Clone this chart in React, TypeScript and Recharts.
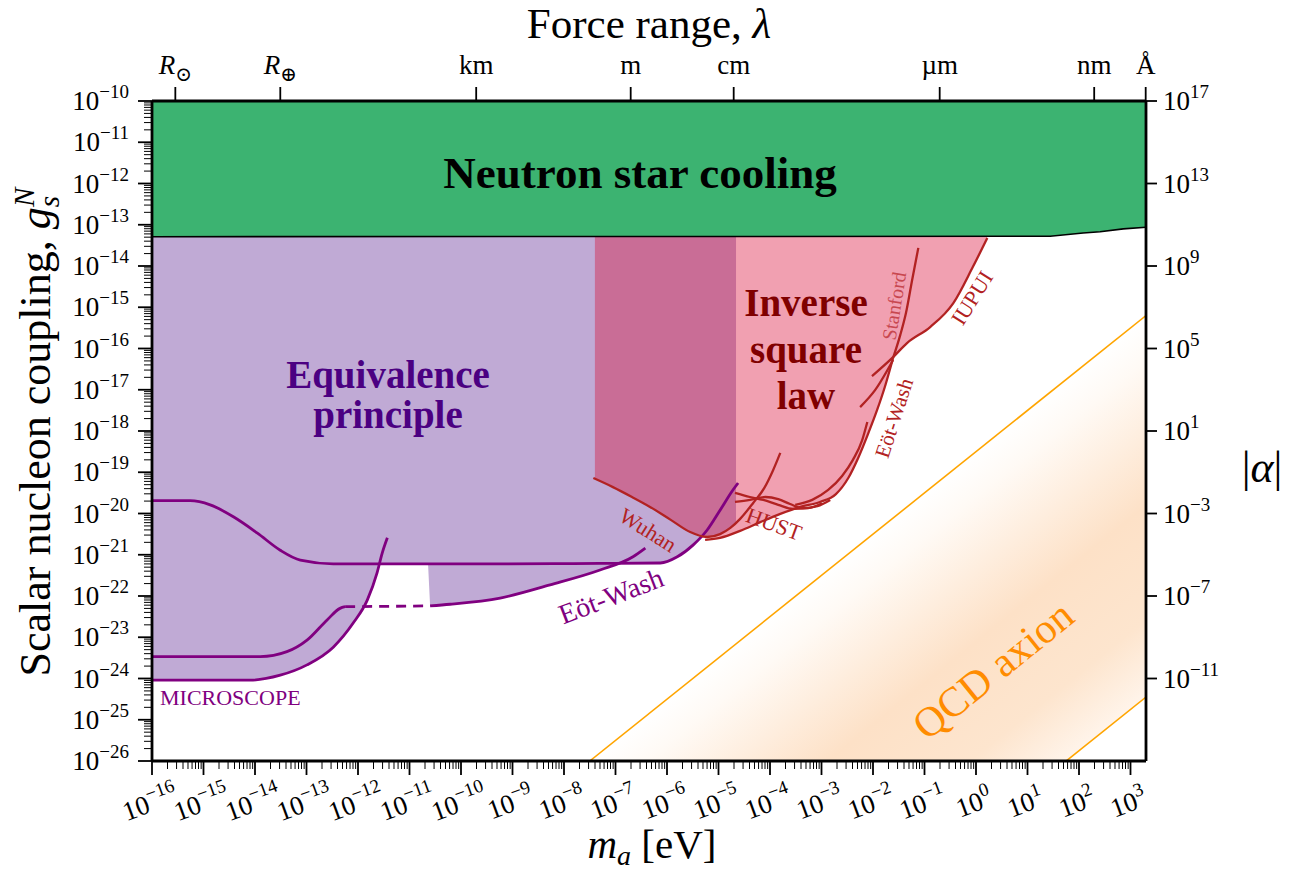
import React from "react";
import { ComposedChart, Area, Line, XAxis, YAxis } from "recharts";

const SERIF = '"Liberation Serif", "DejaVu Serif", serif';

// every value is log10: x = log10(m_a / eV), y = log10(g_s^N)
const neutronStar: [number, number][] = [[-16, -13.29], [1.44, -13.28], [2.08, -13.2], [2.41, -13.17], [2.86, -13.1], [3.301, -13.06]];

const epBottom: [number, number][] = [
    [-16, -24.04], [-14.09, -24.04], [-13.51, -23.92], [-12.99, -23.67], [-12.48, -23.24], [-12.09, -22.65],
    [-11.82, -22.1], [-11.63, -21.44], [-11.57, -21.22], [-10.64, -21.22], [-10.6, -22.24], [-10.21, -22.2],
    [-9.24, -22.05], [-8.27, -21.73], [-7.3, -21.37], [-6.95, -21.21], [-6.13, -21.2], [-5.8, -21.05],
    [-5.49, -20.76], [-5.22, -20.4], [-4.97, -19.92], [-4.72, -19.43], [-4.66, -19.33],
];
const wuhanBottom: [number, number][] = [
    [-7.4, -19.16], [-7.05, -19.36], [-6.68, -19.6], [-6.33, -19.84], [-5.92, -20.16], [-5.55, -20.45],
    [-5.22, -20.57], [-4.97, -20.5], [-4.77, -20.35], [-4.66, -20.22],
];
const islBottom: [number, number][] = [
    [-5.36, -20.59], [-4.97, -20.59], [-4.58, -20.42], [-4.19, -20.21], [-3.8, -20.01], [-3.41, -19.84],
    [-3.03, -19.72], [-2.72, -19.53], [-2.48, -19.14], [-2.29, -18.66], [-2.09, -18.05], [-1.92, -17.49],
    [-1.76, -16.89], [-1.61, -16.23], [-1.34, -15.87], [-0.89, -15.48], [-0.44, -14.9], [-0.06, -14.02], [0.22, -13.32],
];

const qcdX = [-7.5, 3.301];
const qcdUpper = [-26.0, -15.2];
const qcdLower = [-35.25, -24.45];

// limit curves
const epUpper: [number, number][] = [
    [-16, -19.69], [-15.26, -19.69], [-14.87, -19.79], [-14.42, -20.08], [-13.96, -20.47], [-13.51, -20.89],
    [-13.12, -21.13], [-12.48, -21.22], [-11.18, -21.22], [-9.24, -21.22], [-7.3, -21.21], [-6.13, -21.2],
    [-5.8, -21.05], [-5.49, -20.76], [-5.22, -20.4], [-4.97, -19.92], [-4.72, -19.43], [-4.62, -19.26],
];
const microscopeLower: [number, number][] = [
    [-16, -24.04], [-14.09, -24.04], [-13.51, -23.92], [-12.99, -23.67], [-12.48, -23.24], [-12.09, -22.65],
    [-11.82, -22.1], [-11.63, -21.44], [-11.53, -20.96], [-11.43, -20.59],
];
const microscopeUpper: [number, number][] = [
    [-16, -23.47], [-13.9, -23.47], [-13.38, -23.35], [-12.99, -23.07], [-12.6, -22.58], [-12.35, -22.3], [-12.25, -22.26],
];
const microscopeGap: [number, number][] = [[-12.25, -22.26], [-10.6, -22.24]];
const eotWashEP: [number, number][] = [
    [-10.6, -22.24], [-10.21, -22.2], [-9.24, -22.05], [-8.27, -21.73], [-7.3, -21.37], [-6.66, -21.05], [-6.42, -20.84],
];
const wuhan: [number, number][] = [
    [-7.43, -19.14], [-7.05, -19.36], [-6.68, -19.6], [-6.33, -19.84], [-5.92, -20.16], [-5.55, -20.45],
    [-5.22, -20.57], [-4.97, -20.5], [-4.77, -20.35], [-4.58, -20.13], [-4.33, -19.75], [-4.11, -19.38],
    [-3.94, -18.95], [-3.8, -18.53],
];
const eotWashISL: [number, number][] = [
    [-5.26, -20.64], [-4.97, -20.59], [-4.58, -20.42], [-4.19, -20.21], [-3.8, -20.01], [-3.41, -19.84],
    [-3.03, -19.72], [-2.72, -19.53], [-2.48, -19.14], [-2.29, -18.66], [-2.09, -18.05], [-1.92, -17.49],
    [-1.76, -16.89], [-1.61, -16.23],
];
const stanford: [number, number][] = [[-1.61, -16.23], [-1.47, -15.67], [-1.36, -15.14], [-1.24, -14.34], [-1.12, -13.56]];
const iupui: [number, number][] = [[-2.02, -16.67], [-1.61, -16.21], [-1.34, -15.87], [-0.89, -15.48], [-0.44, -14.9], [-0.06, -14.02], [0.22, -13.32]];
const eotWashShort: [number, number][] = [[-2.25, -17.42], [-1.96, -17.01], [-1.61, -16.28]];
const eotWashInner: [number, number][] = [[-3.51, -19.79], [-3.18, -19.67], [-2.87, -19.43], [-2.6, -19.09], [-2.39, -18.7], [-2.21, -18.22], [-2.11, -17.78]];
const hust1: [number, number][] = [[-4.68, -19.5], [-4.39, -19.6], [-4.13, -19.67], [-3.84, -19.79], [-3.55, -19.89], [-3.26, -19.87], [-2.99, -19.75]];
const hust2: [number, number][] = [[-4.68, -19.72], [-4.39, -19.67], [-4.09, -19.6], [-3.84, -19.65], [-3.61, -19.77], [-3.36, -19.87], [-3.08, -19.82], [-2.83, -19.67]];

// axes
const gMajor = [-26, -25, -24, -23, -22, -21, -20, -19, -18, -17, -16, -15, -14, -13, -12, -11, -10];
const mMajor = [-16, -15, -14, -13, -12, -11, -10, -9, -8, -7, -6, -5, -4, -3, -2, -1, 0, 1, 2, 3];
const alphaTicks = [17, 13, 9, 5, 1, -3, -7, -11];
const lambdaTicks = [-15.547, -13.509, -9.705, -6.705, -4.705, -0.705, 2.295, 3.295];
const lambdaLabels = ["R⊙", "R⊕", "km", "m", "cm", "µm", "nm", "Å"];

const withMinor = (major: number[], max: number) => {
    const out: number[] = [];
    major.forEach((d) => {
        out.push(d);
        for (let k = 2; k <= 9; k++) {
            const v = d + Math.log10(k);
            if (v <= max) out.push(v);
        }
    });
    return out;
};
const gTicks = withMinor(gMajor, -10);
const mTicks = withMinor(mMajor, 3.301);

const pts = (a: [number, number][]) => a.map(([x, y]) => ({ x, y }));
const range = (a: [number, number][], top: number) => a.map(([x, y]) => ({ x, r: [y, top] }));
const qcdBand = qcdX.map((x, i) => ({ x, r: [qcdLower[i], qcdUpper[i]] }));
const qcdTop = qcdX.map((x, i) => ({ x, y: qcdUpper[i] }));
const qcdBottom = qcdX.map((x, i) => ({ x, y: qcdLower[i] }));

const isMajor = (v: number) => Math.abs(v - Math.round(v)) < 1e-6;
const exp = (v: number) => (v < 0 ? "\u2212" + Math.abs(Math.round(v)) : String(Math.round(v)));
const AXIS = { stroke: "#000", strokeWidth: 2.8 };
const TF = 27; // tick font
const EF = 19; // exponent font

function LeftTick(p: any) {
    const { x, y, payload } = p;
    const major = isMajor(payload.value);
    return (
        <g>
            <line x1={x} x2={x - (major ? 14 : 8)} y1={y} y2={y} stroke="#000" strokeWidth={major ? 1.8 : 1} />
            {major && (
                <text x={x - 23} y={y + 9} textAnchor="end" fontSize={TF} fontFamily={SERIF} fill="#000">
                    10<tspan dy={-12} fontSize={EF}>{exp(payload.value)}</tspan>
                </text>
            )}
        </g>
    );
}

function RightTick(p: any) {
    const { x, y, payload } = p;
    return (
        <g>
            <line x1={x} x2={x + 11} y1={y} y2={y} stroke="#000" strokeWidth={1.8} />
            <text x={x + 17} y={y + 9} textAnchor="start" fontSize={TF} fontFamily={SERIF} fill="#000">
                10<tspan dy={-12} fontSize={EF}>{exp(payload.value)}</tspan>
            </text>
        </g>
    );
}

function BottomTick(p: any) {
    const { x, y, payload } = p;
    const major = isMajor(payload.value);
    return (
        <g>
            <line x1={x} x2={x} y1={y} y2={y + (major ? 14 : 8)} stroke="#000" strokeWidth={major ? 1.8 : 1} />
            {major && (
                <text x={x - 2} y={y + 51} textAnchor="middle" transform={`rotate(-20 ${x - 2} ${y + 42})`} fontSize={TF} fontFamily={SERIF} fill="#000">
                    10<tspan dy={-12} fontSize={EF}>{exp(payload.value)}</tspan>
                </text>
            )}
        </g>
    );
}

function TopTick(p: any) {
    const { x, y, payload, index } = p;
    const label = lambdaLabels[index] ?? "";
    const isR = label.startsWith("R");
    return (
        <g>
            <line x1={x} x2={x} y1={y} y2={y - 14} stroke="#000" strokeWidth={1.8} />
            <text x={x} y={y - 27} textAnchor="middle" fontSize={TF} fontFamily={SERIF} fill="#000">
                {isR ? (
                    <>
                        <tspan fontStyle="italic">R</tspan>
                        <tspan dy={7} fontSize={20}>{label.slice(1)}</tspan>
                    </>
                ) : (
                    label
                )}
            </text>
        </g>
    );
}

const PURPLE = "#800080";
const RED = "#b22222";

export default function App() {
    return (
        <div style={{ position: "absolute", left: 0, top: 0, width: 1297, height: 876, background: "#fff", fontFamily: SERIF }}>
            <ComposedChart width={1297} height={876} margin={{ top: 61, right: 71, bottom: 75, left: 72 }}>
                <defs>
                    <linearGradient id="qcdFill" gradientUnits="userSpaceOnUse" x1={868} y1={538} x2={1054} y2={770}>
                        <stop offset="0" stopColor="#ffffff" />
                        <stop offset="0.12" stopColor="#fffaf5" />
                        <stop offset="0.5" stopColor="#fde1c7" />
                        <stop offset="0.8" stopColor="#fde5ce" />
                        <stop offset="1" stopColor="#fff4ea" />
                    </linearGradient>
                </defs>
                <XAxis xAxisId="b" type="number" dataKey="x" domain={[-16, 3.301]} allowDataOverflow ticks={mTicks} interval={0}
                    tickSize={0} tickMargin={0} tickLine={false} tick={(p: any) => <BottomTick {...p} />} axisLine={AXIS} height={40} />
                <XAxis xAxisId="t" orientation="top" type="number" dataKey="x" domain={[-16, 3.301]} allowDataOverflow ticks={lambdaTicks} interval={0}
                    tickSize={0} tickMargin={0} tickLine={false} tick={(p: any) => <TopTick {...p} />} axisLine={AXIS} height={40} />
                <YAxis yAxisId="l" type="number" domain={[-26, -10]} allowDataOverflow ticks={gTicks} interval={0}
                    tickSize={0} tickMargin={0} tickLine={false} tick={(p: any) => <LeftTick {...p} />} axisLine={AXIS} width={80} />
                <YAxis yAxisId="r" orientation="right" type="number" domain={[-15, 17]} allowDataOverflow ticks={alphaTicks} interval={0}
                    tickSize={0} tickMargin={0} tickLine={false} tick={(p: any) => <RightTick {...p} />} axisLine={AXIS} width={80} />

                <Area xAxisId="b" yAxisId="l" data={range(islBottom, -10)} dataKey="r" type="linear" fill="#f1a0b1" fillOpacity={1} stroke="none" isAnimationActive={false} dot={false} activeDot={false} />
                <Area xAxisId="b" yAxisId="l" data={range(epBottom, -10)} dataKey="r" type="linear" fill="#c0aad5" fillOpacity={1} stroke="none" isAnimationActive={false} dot={false} activeDot={false} />
                <Area xAxisId="b" yAxisId="l" data={range(wuhanBottom, -10)} dataKey="r" type="linear" fill="#c96d96" fillOpacity={1} stroke="none" isAnimationActive={false} dot={false} activeDot={false} />
                <Area xAxisId="b" yAxisId="l" data={qcdBand} dataKey="r" type="linear" fill="url(#qcdFill)" fillOpacity={1} stroke="none" isAnimationActive={false} dot={false} activeDot={false} />
                <Area xAxisId="b" yAxisId="l" data={range(neutronStar, -10)} dataKey="r" type="linear" fill="#3cb371" fillOpacity={1} stroke="#000" strokeWidth={1.6} isAnimationActive={false} dot={false} activeDot={false} />

                <Line xAxisId="b" yAxisId="l" data={qcdTop} dataKey="y" type="linear" stroke="#ffa500" strokeWidth={1.6} dot={false} activeDot={false} isAnimationActive={false} />
                <Line xAxisId="b" yAxisId="l" data={qcdBottom} dataKey="y" type="linear" stroke="#ffa500" strokeWidth={1.6} dot={false} activeDot={false} isAnimationActive={false} />

                {[epUpper, microscopeLower, microscopeUpper, eotWashEP].map((c, i) => (
                    <Line key={"p" + i} xAxisId="b" yAxisId="l" data={pts(c)} dataKey="y" type="monotone" stroke={PURPLE} strokeWidth={2.8} dot={false} activeDot={false} isAnimationActive={false} />
                ))}
                <Line xAxisId="b" yAxisId="l" data={pts(microscopeGap)} dataKey="y" type="linear" stroke={PURPLE} strokeWidth={2.8} strokeDasharray="10 7" dot={false} activeDot={false} isAnimationActive={false} />
                {[wuhan, eotWashISL, stanford, iupui, eotWashShort, eotWashInner, hust1, hust2].map((c, i) => (
                    <Line key={"r" + i} xAxisId="b" yAxisId="l" data={pts(c)} dataKey="y" type="monotone" stroke={RED} strokeWidth={2.3} dot={false} activeDot={false} isAnimationActive={false} />
                ))}
            </ComposedChart>

            <svg width={1297} height={876} style={{ position: "absolute", left: 0, top: 0, pointerEvents: "none" }} fontFamily={SERIF}>
                <text x={649} y={38} textAnchor="middle" fontSize={43}>Force range, <tspan fontStyle="italic">λ</tspan></text>
                <text x={652} y={858} textAnchor="middle" fontSize={41}>
                    <tspan fontStyle="italic">m</tspan><tspan fontStyle="italic" fontSize={28} dy={7}>a</tspan><tspan dy={-7}> [eV]</tspan>
                </text>
                <text transform="translate(50 432) rotate(-90)" textAnchor="middle" fontSize={44}>
                    Scalar nucleon coupling, <tspan fontStyle="italic">g</tspan><tspan fontStyle="italic" fontSize={29} dy={9}>s</tspan><tspan fontStyle="italic" fontSize={29} dx={-11} dy={-25}>N</tspan>
                </text>
                <text x={1262} y={482} textAnchor="middle" fontSize={44}>|<tspan fontStyle="italic">α</tspan>|</text>

                <text x={640} y={188} textAnchor="middle" fontSize={45} fontWeight="bold">Neutron star cooling</text>
                <text x={388} y={388} textAnchor="middle" fontSize={39} fontWeight="bold" fill="#4b0082">Equivalence</text>
                <text x={388} y={428} textAnchor="middle" fontSize={39} fontWeight="bold" fill="#4b0082">principle</text>
                <text x={806} y={316} textAnchor="middle" fontSize={39} fontWeight="bold" fill="#800000">Inverse</text>
                <text x={806} y={363} textAnchor="middle" fontSize={39} fontWeight="bold" fill="#800000">square</text>
                <text x={806} y={409} textAnchor="middle" fontSize={39} fontWeight="bold" fill="#800000">law</text>

                <text x={160} y={705} fontSize={22} fill={PURPLE}>MICROSCOPE</text>
                <text transform="translate(611 596) rotate(-21)" textAnchor="middle" dominantBaseline="central" fontSize={28} fill={PURPLE}>Eöt-Wash</text>
                <text transform="translate(648 530) rotate(32)" textAnchor="middle" dominantBaseline="central" fontSize={22} fill={RED}>Wuhan</text>
                <text transform="translate(774 524) rotate(20)" textAnchor="middle" dominantBaseline="central" fontSize={22} fill={RED}>HUST</text>
                <text transform="translate(894 418) rotate(-72)" textAnchor="middle" dominantBaseline="central" fontSize={21} fill={RED}>Eöt-Wash</text>
                <text transform="translate(894 306) rotate(-81)" textAnchor="middle" dominantBaseline="central" fontSize={20} fill="#c8474f">Stanford</text>
                <text transform="translate(972 298) rotate(-58)" textAnchor="middle" dominantBaseline="central" fontSize={22} fill={RED}>IUPUI</text>
                <text transform="translate(993 670) rotate(-39)" textAnchor="middle" dominantBaseline="central" fontSize={42} fill="#ff8c00">QCD axion</text>
            </svg>
        </div>
    );
}
